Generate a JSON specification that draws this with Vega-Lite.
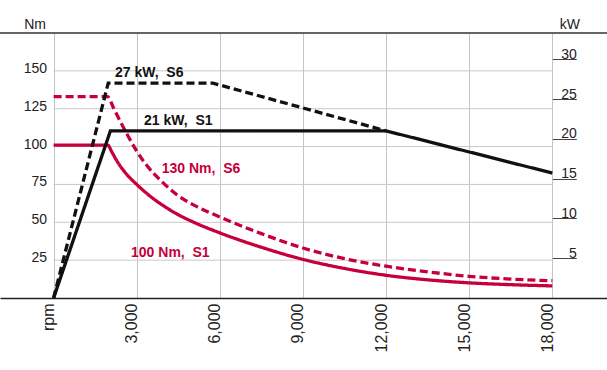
{
  "$schema": "https://vega.github.io/schema/vega-lite/v6.json",
  "width": 607,
  "height": 265,
  "autosize": {"type": "none"},
  "padding": {"left": 0, "top": 33, "right": 0, "bottom": 72},
  "background": "white",
  "config": {"view": {"stroke": null}, "font": "Liberation Sans"},
  "datasets": {
    "torque": [
      {"rpm": 0, "nm": 101, "duty": "S1"}, {"rpm": 1950, "nm": 101, "duty": "S1"}, {"rpm": 2100, "nm": 96.5, "duty": "S1"},
      {"rpm": 2300, "nm": 90, "duty": "S1"}, {"rpm": 2600, "nm": 82.5, "duty": "S1"}, {"rpm": 3000, "nm": 75, "duty": "S1"},
      {"rpm": 3500, "nm": 67, "duty": "S1"}, {"rpm": 4000, "nm": 60.5, "duty": "S1"}, {"rpm": 4500, "nm": 55, "duty": "S1"},
      {"rpm": 5000, "nm": 50.5, "duty": "S1"}, {"rpm": 6000, "nm": 43, "duty": "S1"}, {"rpm": 7500, "nm": 33.5, "duty": "S1"},
      {"rpm": 9000, "nm": 25.5, "duty": "S1"}, {"rpm": 10500, "nm": 19.5, "duty": "S1"}, {"rpm": 12000, "nm": 15, "duty": "S1"},
      {"rpm": 13500, "nm": 12, "duty": "S1"}, {"rpm": 15000, "nm": 10, "duty": "S1"}, {"rpm": 16500, "nm": 8.8, "duty": "S1"},
      {"rpm": 18000, "nm": 8, "duty": "S1"},
      {"rpm": 0, "nm": 133, "duty": "S6"}, {"rpm": 1950, "nm": 133, "duty": "S6"}, {"rpm": 2150, "nm": 126, "duty": "S6"},
      {"rpm": 2450, "nm": 115, "duty": "S6"}, {"rpm": 2700, "nm": 106.5, "duty": "S6"}, {"rpm": 3000, "nm": 97, "duty": "S6"},
      {"rpm": 3300, "nm": 89, "duty": "S6"}, {"rpm": 3900, "nm": 77, "duty": "S6"}, {"rpm": 4500, "nm": 67.5, "duty": "S6"},
      {"rpm": 5100, "nm": 61, "duty": "S6"}, {"rpm": 6000, "nm": 53.5, "duty": "S6"}, {"rpm": 7500, "nm": 42.5, "duty": "S6"},
      {"rpm": 9000, "nm": 33, "duty": "S6"}, {"rpm": 10500, "nm": 26, "duty": "S6"}, {"rpm": 12000, "nm": 21, "duty": "S6"},
      {"rpm": 13500, "nm": 17.3, "duty": "S6"}, {"rpm": 15000, "nm": 14.3, "duty": "S6"}, {"rpm": 16500, "nm": 12.5, "duty": "S6"},
      {"rpm": 18000, "nm": 11.4, "duty": "S6"}
    ],
    "power": [
      {"rpm": 0, "kw": 0, "duty": "S1"}, {"rpm": 2050, "kw": 21, "duty": "S1"}, {"rpm": 12000, "kw": 21, "duty": "S1"}, {"rpm": 18000, "kw": 15.7, "duty": "S1"},
      {"rpm": 0, "kw": 0, "duty": "S6"}, {"rpm": 1970, "kw": 27, "duty": "S6"}, {"rpm": 5750, "kw": 27, "duty": "S6"}, {"rpm": 12000, "kw": 21, "duty": "S6"}
    ],
    "grid": [{"nm": 25}, {"nm": 50}, {"nm": 75}, {"nm": 100}, {"nm": 125}, {"nm": 150}],
    "notes": [
      {"rpm": 2216, "nm": 145.9, "label": "27 kW,\u00a0\u00a0S6", "kind": "kW"},
      {"rpm": 3263, "nm": 114.3, "label": "21 kW,\u00a0\u00a0S1", "kind": "kW"},
      {"rpm": 3902, "nm": 82.4, "label": "130 Nm,\u00a0\u00a0S6", "kind": "Nm"},
      {"rpm": 2794, "nm": 27.3, "label": "100 Nm,\u00a0\u00a0S1", "kind": "Nm"}
    ]
  },
  "layer": [
    {
      "data": {"name": "grid"},
      "mark": {"type": "rule", "color": "#c8c8c8", "strokeWidth": 1},
      "encoding": {
        "y": {"field": "nm", "type": "quantitative", "scale": {"domain": [0, 175], "nice": false}, "axis": null},
        "x": {"datum": 0, "type": "quantitative", "axis": {"title": null}},
        "x2": {"datum": 18000}
      }
    },
    {
      "data": {"values": [{"edge": 175}]},
      "mark": {"type": "rule", "color": "#333333", "strokeWidth": 1.5},
      "encoding": {
        "y": {"field": "edge", "type": "quantitative", "scale": {"domain": [0, 175], "nice": false}, "axis": null}
      }
    },
    {
      "data": {"name": "torque"},
      "mark": {"type": "line", "color": "#c6003a", "strokeWidth": 3.3, "interpolate": "monotone", "strokeCap": "butt"},
      "encoding": {
        "x": {
          "field": "rpm", "type": "quantitative",
          "scale": {"domain": [-1935, 19973], "nice": false, "zero": false},
          "axis": {
            "orient": "bottom", "values": [0, 3000, 6000, 9000, 12000, 15000, 18000],
            "labelExpr": "datum.value == 0 ? 'rpm' : format(datum.value, ',')",
            "labelAngle": 270, "labelAlign": "right", "labelBaseline": "alphabetic",
            "labelPadding": 5, "labelFontSize": 16, "labelColor": "#222222", "labelFont": "Liberation Sans",
            "ticks": false, "grid": true, "gridColor": "#c4c4c4", "gridWidth": 1,
            "domain": true, "domainColor": "#222222", "domainWidth": 1.5, "title": null
          }
        },
        "y": {
          "field": "nm", "type": "quantitative",
          "scale": {"domain": [0, 175], "nice": false},
          "axis": {
            "orient": "left", "offset": -53.6, "values": [25, 50, 75, 100, 125, 150],
            "domain": false, "ticks": false, "grid": false,
            "labelAlign": "right", "labelBaseline": "alphabetic", "labelPadding": 7, "labelOffset": 1.5,
            "labelFontSize": 14, "labelColor": "#222222", "labelFont": "Liberation Sans",
            "title": "Nm", "titleAngle": 0, "titleX": -19, "titleY": -5, "titleAlign": "center",
            "titleBaseline": "alphabetic", "titleFontSize": 14, "titleFontWeight": "normal", "titleColor": "#222222", "titleFont": "Liberation Sans"
          }
        },
        "detail": {"field": "duty"},
        "strokeDash": {"field": "duty", "type": "nominal", "scale": {"domain": ["S1", "S6"], "range": [[1, 0], [8, 4]]}, "legend": null}
      }
    },
    {
      "data": {"name": "power"},
      "mark": {"type": "line", "color": "#111111", "strokeWidth": 3.3, "strokeCap": "butt"},
      "encoding": {
        "x": {"field": "rpm", "type": "quantitative", "axis": {"title": null}},
        "y": {
          "field": "kw", "type": "quantitative",
          "scale": {"domain": [0, 33.3], "nice": false},
          "axis": {
            "orient": "right", "offset": -54.7, "values": [5, 10, 15, 20, 25, 30],
            "domain": false, "grid": false, "ticks": true, "tickSize": 24, "tickColor": "#444444", "tickWidth": 1,
            "labelAlign": "right", "labelBaseline": "alphabetic", "labelPadding": 0, "labelOffset": -1,
            "labelFontSize": 14, "labelColor": "#222222", "labelFont": "Liberation Sans",
            "title": "kW", "titleAngle": 0, "titleX": 17, "titleY": -5, "titleAlign": "center",
            "titleBaseline": "alphabetic", "titleFontSize": 14, "titleFontWeight": "normal", "titleColor": "#222222", "titleFont": "Liberation Sans"
          }
        },
        "detail": {"field": "duty"},
        "strokeDash": {"field": "duty", "type": "nominal", "scale": {"domain": ["S1", "S6"], "range": [[1, 0], [8, 4]]}, "legend": null}
      }
    },
    {
      "data": {"name": "notes"},
      "mark": {"type": "text", "align": "left", "baseline": "alphabetic", "fontSize": 14, "fontWeight": "bold", "font": "Liberation Sans"},
      "encoding": {
        "x": {"field": "rpm", "type": "quantitative", "axis": {"title": null}},
        "y": {"field": "nm", "type": "quantitative", "scale": {"domain": [0, 175], "nice": false}, "axis": null},
        "text": {"field": "label"},
        "color": {"field": "kind", "type": "nominal", "scale": {"domain": ["kW", "Nm"], "range": ["#111111", "#c6003a"]}, "legend": null}
      }
    }
  ],
  "resolve": {"scale": {"y": "independent"}}
}
